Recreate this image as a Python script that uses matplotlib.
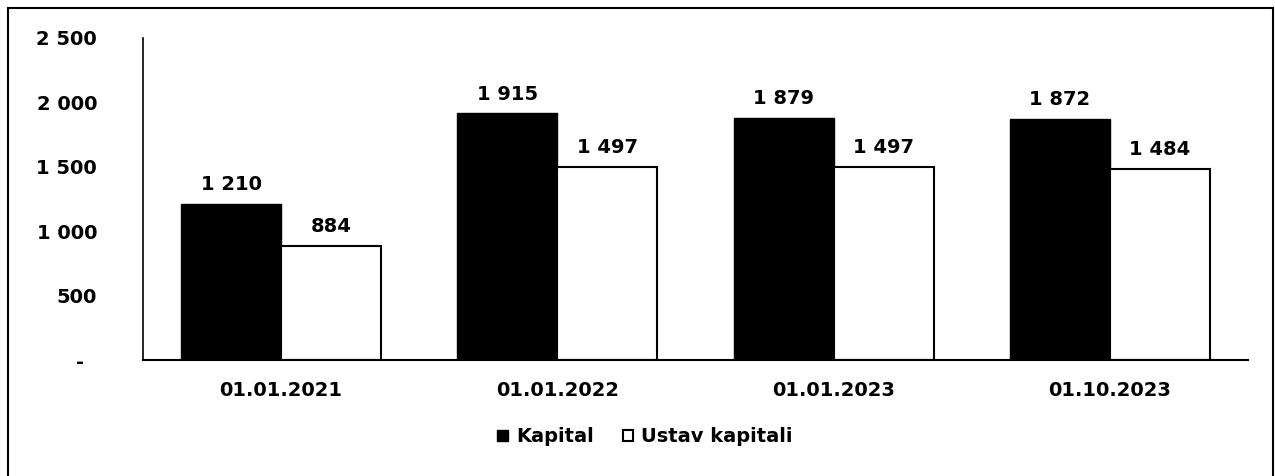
import matplotlib
matplotlib.use("Agg")
import matplotlib.pyplot as plt
import numpy as np
from matplotlib.patches import Rectangle
from matplotlib.ticker import FuncFormatter

categories = ["01.01.2021", "01.01.2022", "01.01.2023", "01.10.2023"]
kapital = [1210, 1915, 1879, 1872]
ustav = [884, 1497, 1497, 1484]
series_names = ["Kapital", "Ustav kapitali"]
yticks = [0, 500, 1000, 1500, 2000, 2500]

plt.rcParams['font.family'] = ['DejaVu Sans']
plt.rcParams['font.weight'] = 'bold'
FS = 14

fig = plt.figure(figsize=(12.75, 4.76), dpi=100)
ax = fig.add_axes([143/1275, 1-360/476, (1248-143)/1275, (360-38)/476])

x = np.arange(len(categories))
w = 0.362
b1 = ax.bar(x - w/2, kapital, w, color='black', edgecolor='black', linewidth=1, label=series_names[0])
b2 = ax.bar(x + w/2, ustav, w, color='white', edgecolor='black', linewidth=1.5, label=series_names[1])

def fmt(v):
    v = int(round(v))
    if v == 0:
        return "-  "
    return f"{v:,}".replace(",", " ")

ax.bar_label(b1, labels=[fmt(v) for v in kapital], padding=7, fontsize=FS, fontweight='bold')
ax.bar_label(b2, labels=[fmt(v) for v in ustav], padding=7, fontsize=FS, fontweight='bold')

ax.set_xlim(-0.5, len(categories) - 0.5)
ax.set_ylim(0, 2500)
ax.set_yticks(yticks)
ax.yaxis.set_major_formatter(FuncFormatter(lambda v, p: fmt(v)))
ax.set_xticks(x)
ax.set_xticklabels(categories)
ax.tick_params(axis='y', length=0, pad=33, labelsize=FS)
ax.tick_params(axis='x', length=0, pad=15, labelsize=FS)
for lab in ax.get_xticklabels() + ax.get_yticklabels():
    lab.set_fontweight('bold')

ax.spines['top'].set_visible(False)
ax.spines['right'].set_visible(False)
ax.spines['left'].set_linewidth(1.2)
ax.spines['bottom'].set_linewidth(1.5)

leg = fig.legend(handles=[b1, b2], labels=series_names, loc='center',
                 bbox_to_anchor=(645/1275, 1-437/476), ncol=2, frameon=False,
                 prop={'size': FS, 'weight': 'bold'}, handlelength=0.55, handleheight=0.55,
                 handletextpad=0.4, columnspacing=1.5)

fig.patches.append(Rectangle((8/1275, -0.05), (1273-8)/1275, (1-8/476) + 0.05,
                             transform=fig.transFigure, fill=False, edgecolor='black',
                             linewidth=1.5))

fig.savefig("out.png", dpi=100)
